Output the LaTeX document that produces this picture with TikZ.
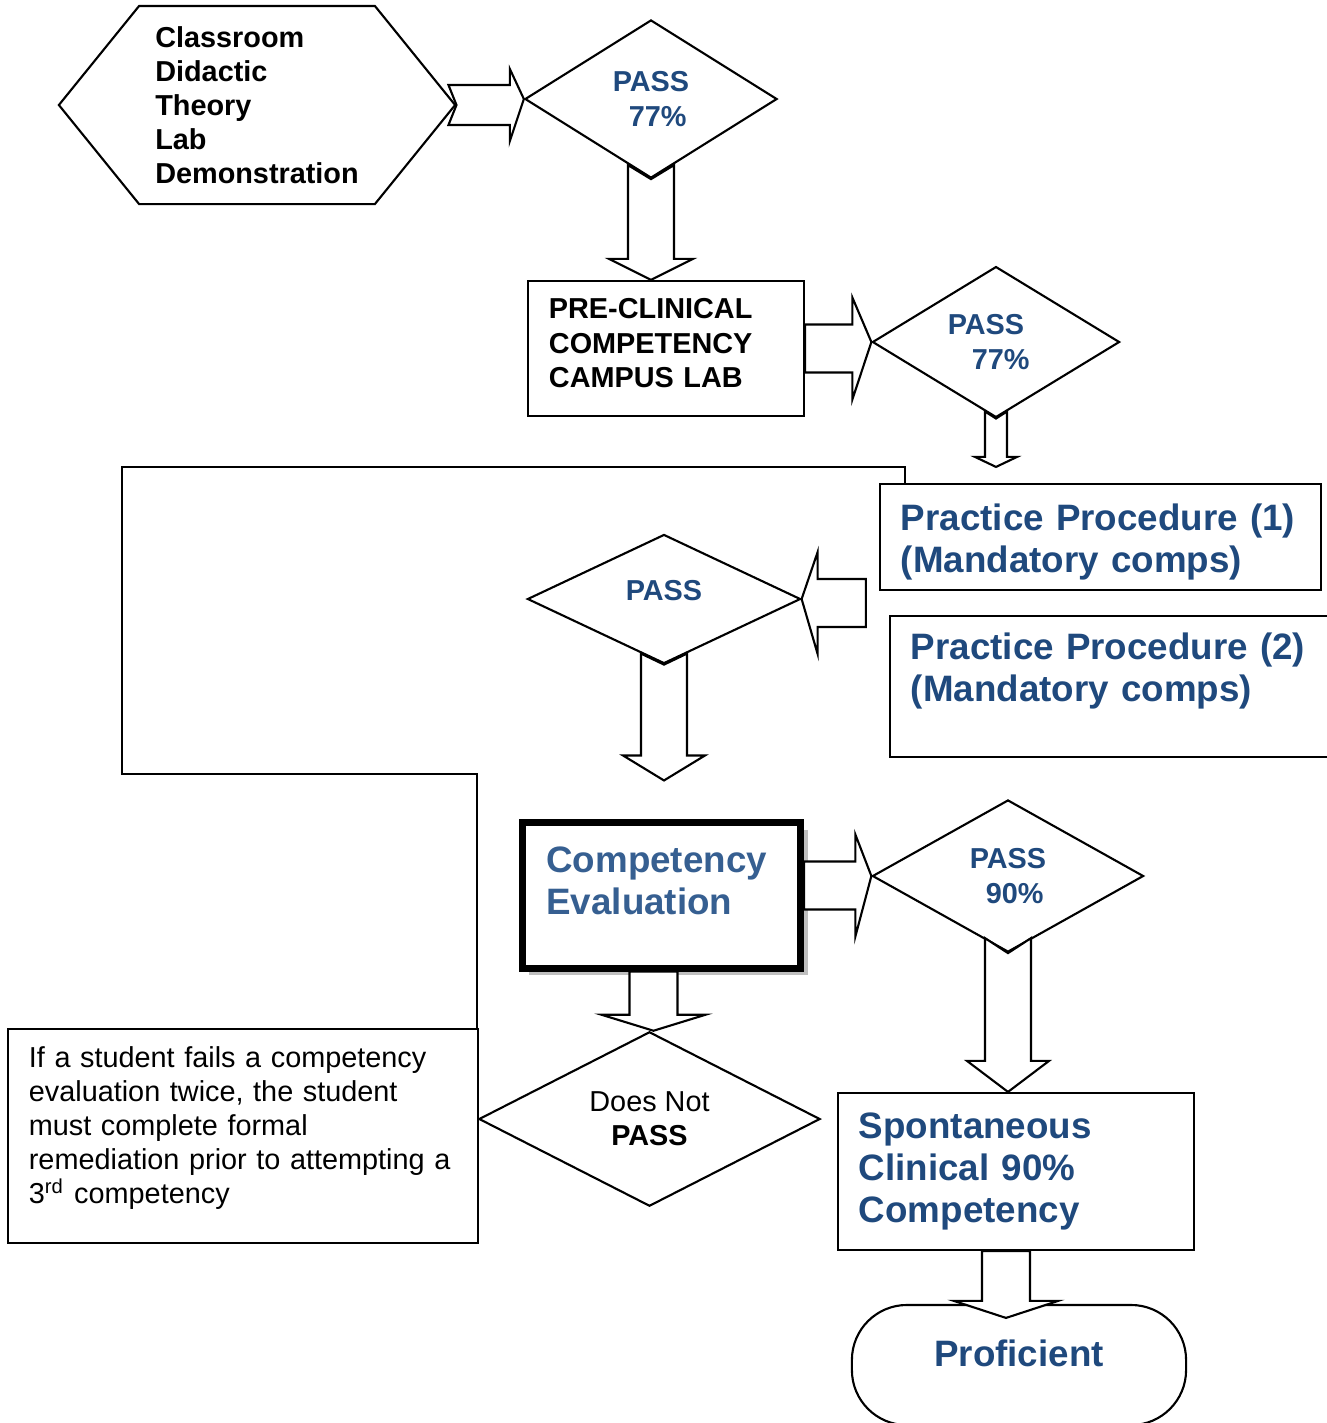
\documentclass[tikz,border=0pt]{standalone}
\usepackage{fontspec}
\setmainfont{Liberation Sans}
\usetikzlibrary{calc,shapes.geometric,shapes.symbols,shadows}
\definecolor{navy}{RGB}{31,73,125}
\definecolor{steel}{RGB}{54,95,145}
\newcommand{\smallsz}{\fontsize{8.2}{9.7}\selectfont}
\newcommand{\bigsz}{\fontsize{10.45}{11.95}\selectfont}
\newcommand{\lift}[1]{\rule[-#1]{0pt}{#1}}
% block arrows: from, to, half shaft, half head, head length, notch
\newcommand{\hblock}[6]{%
    \draw[blockarrow] ($(#1)+(-#6,-#3)$) -- ($(#2|-#1)+(-#5,-#3)$) -- ($(#2|-#1)+(-#5,-#4)$) -- (#2)
        -- ($(#2|-#1)+(-#5,#4)$) -- ($(#2|-#1)+(-#5,#3)$) -- ($(#1)+(-#6,#3)$) -- (#1) -- cycle;}
\newcommand{\vblock}[6]{%
    \draw[blockarrow] ($(#1)+(-#3,-#6)$) -- ($(#1|-#2)+(-#3,-#5)$) -- ($(#1|-#2)+(-#4,-#5)$) -- (#1|-#2)
        -- ($(#1|-#2)+(#4,-#5)$) -- ($(#1|-#2)+(#3,-#5)$) -- ($(#1)+(#3,-#6)$) -- (#1) -- cycle;}
\tikzset{
    box/.style={draw, fill=white, align=left, inner xsep=0.21cm, inner ysep=0pt, line width=0.6pt},
    decision/.style={diamond, draw, fill=white, inner sep=0pt, line width=0.6pt, align=left, font=\smallsz\bfseries, text=navy},
    blockarrow/.style={draw, fill=white, line width=0.6pt, line join=miter},
    feedback/.style={line width=0.6pt},
}
\begin{document}
\begin{tikzpicture}[x=0.01cm, y=-0.01cm]
    \useasboundingbox (0,0) rectangle (1327,1423);
    \clip (0,0) rectangle (1327,1423);

    \node[signal, signal to=west and east, signal pointer angle=102, draw, fill=white, line width=0.6pt,
        minimum width=3.96cm, minimum height=1.98cm, inner sep=0pt, align=left, font=\smallsz\bfseries]
        (theory) at (257,105) {Classroom\\Didactic\\Theory\\Lab\\Demonstration};
    \node[decision, minimum width=2.52cm, minimum height=1.58cm] (pass1) at (651,99) {PASS\\\hspace*{0.16cm}77\%};
    \node[box, minimum width=2.76cm, minimum height=1.35cm, text width=2.34cm, font=\smallsz\bfseries]
        (pre) at (666,348.5) {PRE-CLINICAL\\COMPETENCY\\CAMPUS LAB\lift{0.11cm}};
    \node[decision, minimum width=2.47cm, minimum height=1.48cm] (pass2) at (996,342) {PASS\hspace*{0.2cm}\\\hspace*{0.24cm}77\%};
    \node[box, minimum width=4.41cm, minimum height=1.06cm, text width=3.99cm, font=\bigsz\bfseries, text=navy]
        (proc1) at (1100.5,537) {\rule{0pt}{0.37cm}Practice Procedure (1)\\(Mandatory comps)};
    \node[box, minimum width=4.5cm, minimum height=1.41cm, text width=4.08cm, font=\bigsz\bfseries, text=navy]
        (proc2) at (1115,686.5) {Practice Procedure (2)\\(Mandatory comps)\lift{0.39cm}};
    \node[decision, minimum width=2.73cm, minimum height=1.29cm, text depth=0.18cm] (pass3) at (664,599) {PASS};
    \node[box, line width=0.07cm, minimum width=2.78cm, minimum height=1.45cm, inner xsep=0.24cm, text width=2.3cm,
        font=\bigsz\bfseries, text=steel,
        drop shadow={shadow xshift=0.07cm, shadow yshift=-0.07cm, fill=black!25, opacity=1}]
        (ce) at (661.5,895.5) {Competency\\Evaluation\lift{0.29cm}};
    \node[decision, minimum width=2.71cm, minimum height=1.52cm] (pass4) at (1008,876) {PASS\\\hspace*{0.16cm}90\%};
    \node[box, minimum width=3.56cm, minimum height=1.57cm, text width=3.14cm, font=\bigsz\bfseries, text=navy]
        (spont) at (1016,1171.5) {Spontaneous\\Clinical 90\%\\Competency};
    \node[box, minimum width=4.7cm, minimum height=2.14cm, text width=4.28cm, font=\smallsz]
        (note) at (243,1136) {If a student fails a competency\\evaluation twice, the student\\must complete formal\\remediation prior to attempting a\\3\textsuperscript{rd} competency\lift{0.22cm}};
    \node[decision, minimum width=3.41cm, minimum height=1.66cm, align=center, font=\smallsz, text=black]
        (fail) at (649.5,1119) {Does Not\\\textbf{PASS}};
    \node[draw, fill=white, line width=0.6pt, rounded corners=0.55cm, minimum width=3.34cm, minimum height=1.2cm,
        text depth=0.24cm, font=\bigsz\bfseries, text=navy] (prof) at (1019,1365) {Proficient};

    \coordinate (p1top) at ($(proc1.north)+(0,-16)$);
    \coordinate (back) at ($(proc1.south west)!.5!(proc2.north west)+(-18,0)$);
    \coordinate (cetop) at ($(ce.north)+(0,-39)$);
    \coordinate (ceout) at ($(ce.east)+(0,-10)$);
    \coordinate (cebot) at ($(ce.south)+(-8,0)$);
    \coordinate (spout) at ($(spont.south)+(-10,0)$);
    \coordinate (profin) at ($(prof.north)+(0,14)$);
    \coordinate (fb) at ($(note.north east)+(-2,0)$);

    \hblock{theory.east}{pass1.west}{20}{36}{14}{8}
    \vblock{pass1.south}{pre.north}{23}{42}{21}{14}
    \hblock{pre.east}{pass2.west}{24}{51}{19}{0}
    \vblock{pass2.south}{p1top}{11}{21}{10}{7}
    \hblock{back}{pass3.east}{24}{51}{-16}{0}
    \vblock{pass3.south}{cetop}{23}{41}{25}{11}
    \hblock{ceout}{pass4.west}{24}{51}{16}{0}
    \vblock{pass4.south}{spont.north}{23}{41}{31}{15}
    \vblock{cebot}{fail.north}{24}{52}{16}{0}
    \vblock{spout}{profin}{24}{52}{17}{0}

    \draw[feedback] ($(proc1.north west)+(26,0)$) -- ++(0,-16) -| (122,774) -| (fb);
\end{tikzpicture}
\end{document}
